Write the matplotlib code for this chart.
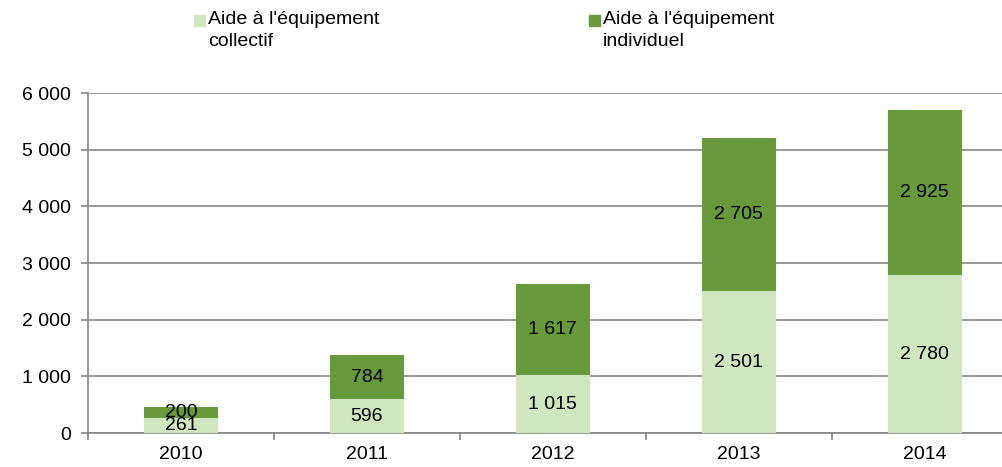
import numpy as np
import matplotlib.pyplot as plt
from matplotlib.patches import Rectangle

# Données (milliers)
annees = ["2010", "2011", "2012", "2013", "2014"]
collectif = [261, 596, 1015, 2501, 2780]
individuel = [200, 784, 1617, 2705, 2925]
noms_series = ["Aide à l'équipement\ncollectif", "Aide à l'équipement\nindividuel"]

VERT_CLAIR = "#D0E6BF"
VERT_FONCE = "#669A3A"
GRIS = "#868686"
TAILLE = 14

plt.rcParams["font.family"] = ["Liberation Sans", "DejaVu Sans"]


def fmt(v):
    return f"{v:,}".replace(",", " ")


fig = plt.figure(figsize=(10.03, 4.67), dpi=100)
ax = fig.add_axes([0.0877, 0.0728, 0.927, 0.728])

x = np.arange(len(annees))
largeur = 0.4
ax.bar(x, collectif, width=largeur, color=VERT_CLAIR, zorder=3)
ax.bar(x, individuel, width=largeur, bottom=collectif, color=VERT_FONCE, zorder=3)

# Étiquettes des valeurs au centre des segments
for i in range(len(annees)):
    ax.text(x[i], collectif[i] / 2, fmt(collectif[i]), ha="center", va="center",
            fontsize=TAILLE, zorder=4)
    ax.text(x[i], collectif[i] + individuel[i] / 2, fmt(individuel[i]), ha="center",
            va="center", fontsize=TAILLE, zorder=4)

ax.set_xlim(-0.5, len(annees) - 0.5)
ax.set_ylim(0, 6000)
ax.set_yticks(np.arange(0, 6001, 1000))
ax.set_yticklabels([fmt(v) for v in range(0, 6001, 1000)], fontsize=TAILLE)
ax.yaxis.grid(True, color=GRIS, linewidth=1.2, zorder=0)

# Graduations x entre les catégories
ax.set_xticks(np.arange(-0.5, len(annees), 1.0))
ax.set_xticklabels([])
ax.set_xticks(x, minor=True)
ax.set_xticklabels(annees, minor=True, fontsize=TAILLE)
ax.tick_params(axis="x", which="major", length=5, color=GRIS, width=1.2, direction="out")
ax.tick_params(axis="x", which="minor", length=0, pad=9)
ax.tick_params(axis="y", length=5, color=GRIS, width=1.2, pad=7)

for s in ["top", "right"]:
    ax.spines[s].set_visible(False)
ax.spines["left"].set_color(GRIS)
ax.spines["bottom"].set_color(GRIS)
ax.spines["left"].set_linewidth(1.2)
ax.spines["bottom"].set_linewidth(1.2)

# Légende
for (px, nom, c) in [(194, noms_series[0], VERT_CLAIR), (589, noms_series[1], VERT_FONCE)]:
    fig.patches.append(Rectangle((px / 1003, 1 - 26 / 467), 11 / 1003, 11 / 467,
                                 transform=fig.transFigure, color=c))
    fig.text((px + 14) / 1003, 1 - 11 / 467, nom, fontsize=TAILLE, va="top", ha="left",
             linespacing=1.35)

fig.savefig("out.png", dpi=100)
